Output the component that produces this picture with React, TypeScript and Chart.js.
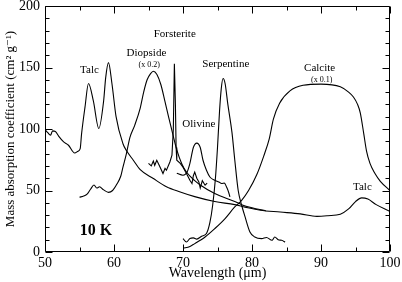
import React, { useEffect, useRef } from "react";
import { Chart, registerables } from "chart.js";

Chart.register(...registerables);

// ---- data ----
const talcX = [50, 50.4, 50.8, 51.1, 51.5, 52, 52.7, 53.4, 54.3, 54.8, 55.1, 55.3, 55.8, 56.3, 57, 57.8, 58.5, 58.8, 59.2, 59.7, 60.3, 61.3, 61.8, 62.8, 63.8, 65.7, 67.6, 69.6, 71.7, 74.6, 77.5, 79, 81.2, 84.1, 87, 89.4, 91, 92.8, 94, 95, 95.9, 96.8, 98, 100];
const talcY = [99.5, 97, 95, 98.5, 98, 94, 89.5, 86.8, 80.5, 82, 84, 96, 118, 137, 123, 100.4, 123, 142, 154, 137, 110, 88, 82.5, 74.6, 67, 59.7, 53, 48.8, 45, 41, 38.5, 36.5, 34, 32.5, 31, 29, 29.5, 30.7, 35, 41, 44, 43, 38.5, 33];

const diopsideX = [55, 55.6, 56.1, 56.6, 57.1, 57.5, 57.9, 58.5, 59.2, 59.8, 60.4, 61, 61.3, 61.8, 62.3, 63, 63.8, 64.3, 64.8, 65.3, 65.7, 66.2, 66.8, 67.4, 67.9, 68.6, 69.1, 69.8, 70.5, 71.7, 72.5, 74.6, 77.5, 78.5, 80, 82];
const diopsideY = [44.5, 45.5, 47, 51, 54.5, 52, 53, 50.5, 48.5, 50, 55, 62, 69, 80, 93, 103, 117, 130, 140, 145, 147, 144.5, 136, 122, 110, 94, 83, 72, 65, 58, 54.5, 47.5, 41, 38.5, 36, 33.5];

const forsteriteX = [65, 65.4, 65.7, 65.9, 66.2, 66.6, 67.1, 67.4, 67.6, 68.1, 68.4, 68.6, 68.75, 68.9, 69.0, 69.1, 69.6, 70, 70.5, 71, 71.3, 71.5, 71.7, 72, 72.3, 72.5, 72.8, 73.2, 73.5];
const forsteriteY = [72, 70, 74, 70.5, 74.6, 70, 63.8, 68, 66.5, 73.2, 78.7, 100, 153, 120, 85, 74.6, 72, 69, 63.8, 58.3, 55.7, 62, 65, 60, 57, 52, 58, 54.3, 56];

const olivineX = [69.1, 70, 70.6, 71, 71.5, 72, 72.5, 72.9, 73.4, 73.9, 74.6, 75.2, 75.6, 76, 76.3, 76.6, 76.8];
const olivineY = [64, 62.4, 65, 72, 85, 88.5, 85, 74.6, 66.5, 61, 58.3, 57, 55.7, 56, 53, 48.8, 44.8];

const serpentineX = [70, 70.5, 71, 71.5, 72, 72.7, 73.4, 73.9, 74.3, 74.7, 75.0, 75.3, 75.55, 75.8, 76.1, 76.5, 77.1, 77.5, 78, 78.5, 79, 79.7, 80.4, 81.4, 82.1, 82.9, 83.3, 83.8, 84.3, 84.8];
const serpentineY = [10.9, 8.1, 11, 11.5, 10.5, 12.8, 15, 24, 38, 60, 85, 115, 133, 141, 137, 120, 97, 75, 50, 38, 28.5, 16.3, 12.2, 10.9, 11.8, 9.5, 12.2, 10, 9.5, 8.1];

const calciteX = [70, 71, 71.7, 72.5, 73.2, 74.6, 76.1, 77.5, 78.5, 79.5, 80.7, 81.7, 82.5, 83.1, 84, 85.5, 87.4, 90, 92.8, 94, 94.7, 95.3, 95.7, 96.2, 96.6, 97.1, 97.8, 98.6, 100];
const calciteY = [3, 4.5, 6.8, 9.5, 12.2, 19, 27.2, 36.6, 42, 50, 63, 78, 92, 108, 121, 131, 135.5, 136.5, 134.3, 130, 126, 120, 113, 96, 82, 72, 64, 57.5, 50];

const labelTexts = ["Talc", "Diopside", "(x 0.2)", "Forsterite", "Olivine", "Serpentine", "Calcite", "(x 0.1)", "Talc", "10 K"];
const labelX = [56.45, 64.7, 65.1, 68.8, 72.3, 76.2, 89.8, 90.1, 96, 57.4];
const labelY = [147.8, 162, 152.3, 177, 103.9, 152.7, 149.2, 139.7, 52.9, 17.2];

const X_MIN = 50, X_MAX = 100, X_MAJOR = 10, X_MINOR = 5;
const Y_MIN = 0, Y_MAX = 200, Y_MAJOR = 50, Y_MINOR = 10;

const SERIF = '"Liberation Serif", "DejaVu Serif", "Times New Roman", serif';
const labelFonts = [
  `11px ${SERIF}`, `11px ${SERIF}`, `8px ${SERIF}`, `11px ${SERIF}`, `11px ${SERIF}`,
  `11px ${SERIF}`, `11px ${SERIF}`, `8px ${SERIF}`, `11px ${SERIF}`, `bold 16px ${SERIF}`,
];

const pts = (xs: number[], ys: number[]) => xs.map((x, i) => ({ x, y: ys[i] }));

const framePlugin = {
  id: "frameTicks",
  afterDraw(chart: any) {
    const { ctx, chartArea, scales } = chart;
    const { left, right, top, bottom } = chartArea;
    const xs = scales.x, ys = scales.y;
    ctx.save();
    ctx.strokeStyle = "#000";
    ctx.lineWidth = 1;
    const L = Math.round(left) + 0.5, R = Math.round(right) - 0.5;
    const T = Math.round(top) + 0.5, B = Math.round(bottom) - 0.5;
    ctx.beginPath();
    ctx.rect(L, T, R - L, B - T);
    ctx.stroke();
    ctx.beginPath();
    for (let v = X_MIN; v <= X_MAX + 1e-9; v += X_MINOR) {
      const p = Math.round(xs.getPixelForValue(v)) + 0.5;
      const len = Math.abs(v % X_MAJOR) < 1e-9 ? 7 : 4;
      ctx.moveTo(p, B); ctx.lineTo(p, B - len);
      ctx.moveTo(p, T); ctx.lineTo(p, T + len);
    }
    for (let v = Y_MIN; v <= Y_MAX + 1e-9; v += Y_MINOR) {
      const p = Math.round(ys.getPixelForValue(v)) + 0.5;
      const len = Math.abs(v % Y_MAJOR) < 1e-9 ? 7 : 4;
      ctx.moveTo(L, p); ctx.lineTo(L + len, p);
      ctx.moveTo(R, p); ctx.lineTo(R - len, p);
    }
    ctx.stroke();
    ctx.fillStyle = "#000";
    ctx.textAlign = "center";
    ctx.textBaseline = "middle";
    labelTexts.forEach((t, i) => {
      ctx.font = labelFonts[i];
      ctx.fillText(t, xs.getPixelForValue(labelX[i]), ys.getPixelForValue(labelY[i]));
    });
    ctx.restore();
  },
};

export default function App() {
  const ref = useRef<HTMLCanvasElement | null>(null);
  useEffect(() => {
    if (!ref.current) return;
    const line = (xs: number[], ys: number[], sharp = false) => ({
      data: pts(xs, ys),
      borderColor: "#000",
      borderWidth: 1.1,
      pointRadius: 0,
      fill: false,
      tension: sharp ? 0 : 0.4,
      cubicInterpolationMode: sharp ? "default" : "monotone",
    });
    const chart = new Chart(ref.current, {
      type: "line",
      data: {
        datasets: [
          line(talcX, talcY),
          line(diopsideX, diopsideY),
          line(forsteriteX, forsteriteY, true),
          line(olivineX, olivineY),
          line(serpentineX, serpentineY),
          line(calciteX, calciteY),
        ] as any,
      },
      options: {
        responsive: false,
        animation: false,
        layout: { padding: { top: 6, right: 12, left: 0, bottom: 0 } },
        plugins: { legend: { display: false }, tooltip: { enabled: false } },
        scales: {
          x: {
            type: "linear",
            min: X_MIN,
            max: X_MAX,
            grid: { display: false, drawTicks: false },
            border: { display: false },
            ticks: { stepSize: X_MAJOR, color: "#000", padding: 3, font: { family: SERIF, size: 14 }, maxRotation: 0 },
            title: { display: true, text: "Wavelength (μm)", color: "#000", padding: 0, font: { family: SERIF, size: 14 } },
            afterFit: (s: any) => { s.height = 30; s.paddingLeft = 0; s.paddingRight = 0; },
          },
          y: {
            type: "linear",
            min: Y_MIN,
            max: Y_MAX,
            grid: { display: false, drawTicks: false },
            border: { display: false },
            ticks: { stepSize: Y_MAJOR, color: "#000", padding: 5, font: { family: SERIF, size: 14 } },
            title: { display: true, text: "Mass absorption coefficient (cm² g⁻¹)", color: "#000", padding: 3, font: { family: SERIF, size: 13 } },
            afterFit: (s: any) => { s.width = 45; s.paddingTop = 0; s.paddingBottom = 0; },
          },
        },
      } as any,
      plugins: [framePlugin],
    });
    return () => chart.destroy();
  }, []);
  return (
    <div style={{ position: "fixed", left: 0, top: 0, width: 402, height: 282, background: "#fff" }}>
      <canvas ref={ref} width={402} height={282} style={{ display: "block", width: 402, height: 282 }} />
    </div>
  );
}
